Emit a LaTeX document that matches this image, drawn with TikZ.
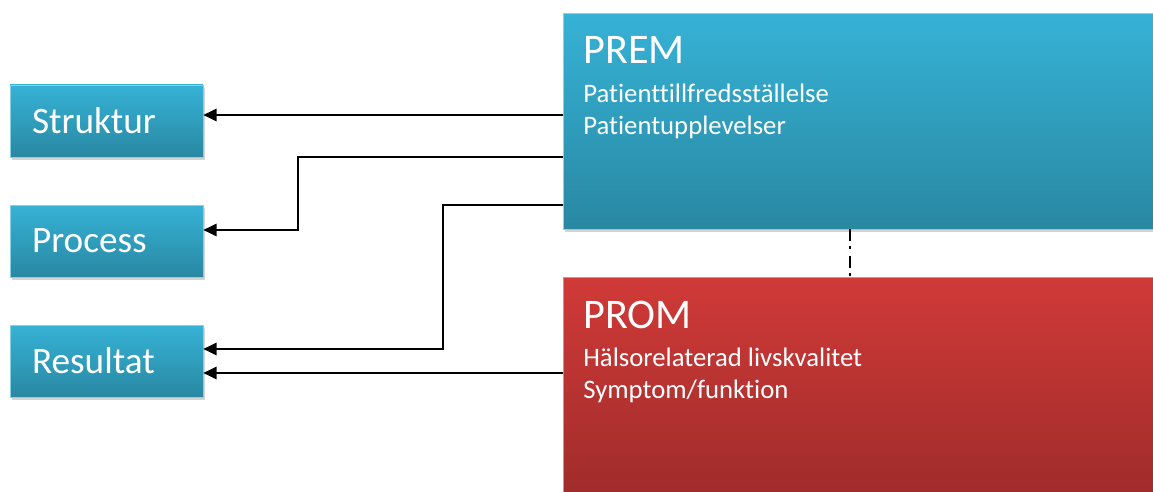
\documentclass[tikz,border=0pt]{standalone}
\usepackage{fontspec}
\setmainfont{Carlito}[RawFeature={-liga;-dlig}]
\usetikzlibrary{arrows.meta,shadows}

\definecolor{boxblue}{RGB}{54,178,214}
\definecolor{boxbluedark}{RGB}{41,136,162}
\definecolor{boxred}{RGB}{208,58,56}
\definecolor{boxreddark}{RGB}{160,44,43}

\tikzset{
  shadowed/.style={drop shadow={opacity=0.35,shadow xshift=1.2pt,shadow yshift=-1.5pt}},
  bluebox/.style={rectangle,shadowed,top color=boxblue,bottom color=boxbluedark,draw=boxblue!60!white,line width=0.4pt},
  redbox/.style={rectangle,shadowed,top color=boxred,bottom color=boxreddark,draw=boxred!60!white,line width=0.4pt},
  smallbox/.style={bluebox,minimum width=3.86cm,minimum height=1.44cm,text width=2.98cm,inner xsep=0.44cm,align=left,text=white,font=\fontsize{21.2}{25}\selectfont},
  bigbox/.style={minimum width=12cm,minimum height=4.32cm},
  boxtitle/.style={anchor=base west,inner sep=0pt,text=white,font=\fontsize{24}{28}\selectfont},
  boxlist/.style={anchor=north west,inner sep=0pt,align=left,text=white,font=\fontsize{15.2}{17.8}\selectfont},
  arr/.style={-{Triangle[length=7.5pt,width=7pt]},line width=1.1pt},
}

\begin{document}
\begin{tikzpicture}[x=0.02cm,y=-0.02cm]
        \useasboundingbox (0,0) rectangle (1153,492);
        \clip (0,0) rectangle (1153,492);
        % left column
        \node[smallbox] (struktur) at (106.5,121) {Struktur};
        \node[smallbox] (process)  at (106.5,241) {Process};
        \node[smallbox] (resultat) at (106.5,361) {Resultat};
        % right column
        \node[bluebox,bigbox] (prem) at (863,121) {};
        \node[redbox,bigbox]  (prom) at (863,385) {};
        \node[boxtitle] (premtitle) at (583,64) {PREM};
        \node[boxlist]  (premlist)  at (583,84) {Patienttillfredsställelse\\Patientupplevelser};
        \node[boxtitle] (promtitle) at (583,329) {PROM};
        \node[boxlist]  (promlist)  at (583,348) {Hälsorelaterad livskvalitet\\Symptom/funktion};
        % connectors
        \draw[arr] (prem.west |- 0,115) -- (struktur.east |- 0,115);
        \draw[arr] (prem.west |- 0,157) -- (298,157) -- (298,230) -- (process.east |- 0,230);
        \draw[arr] (prem.west |- 0,205) -- (443,205) -- (443,349) -- (resultat.east |- 0,349);
        \draw[arr] (prom.west |- 0,373) -- (resultat.east |- 0,373);
        \draw[line width=1.3pt,dash pattern=on 6.8pt off 2.8pt on 1.7pt off 4pt] (prem.south -| 850,0) -- (prom.north -| 850,0);
\end{tikzpicture}
\end{document}
